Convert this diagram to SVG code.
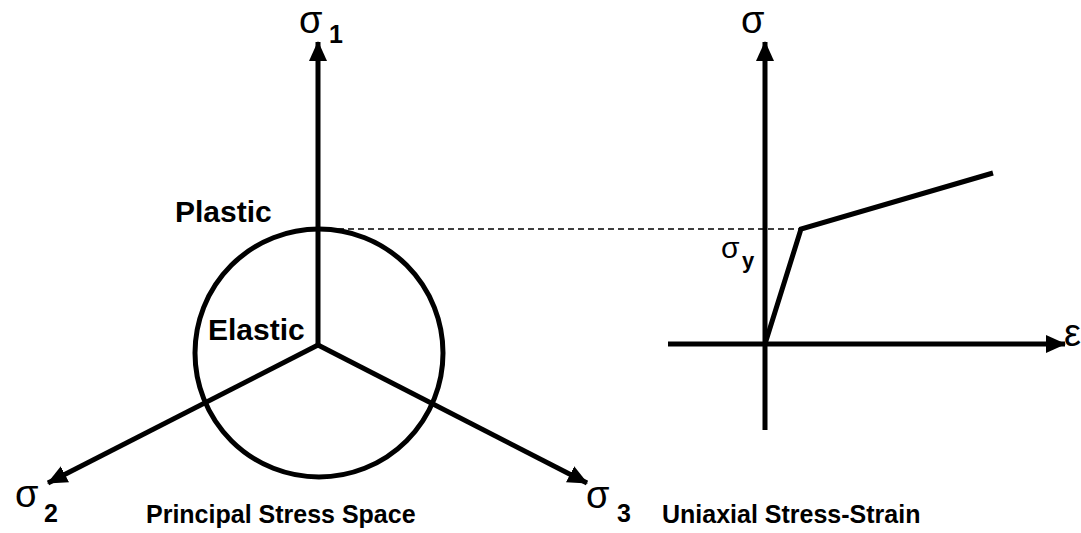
<svg xmlns="http://www.w3.org/2000/svg" width="1081" height="533" viewBox="0 0 1081 533">
<style>
.ax{stroke:#000;stroke-width:5;fill:none}
.sg{font-family:"Liberation Sans",Arial,sans-serif;font-size:38px;fill:#000}
.sub{font-family:"Liberation Sans",Arial,sans-serif;font-size:25px;font-weight:bold;fill:#000}
.lb{font-family:"Liberation Sans",Arial,sans-serif;font-size:30px;font-weight:bold;fill:#000}
.cap{font-family:"Liberation Sans",Arial,sans-serif;font-size:25px;font-weight:bold;fill:#000}
</style>
<defs>
<marker id="a" markerWidth="20" markerHeight="18" refX="19" refY="9" orient="auto" markerUnits="userSpaceOnUse">
<path d="M0,0 L20,9 L0,18 Z" fill="#000"/>
</marker>
</defs>
<g id="connectors">
<line class="ax" x1="318" y1="345" x2="318" y2="42" marker-end="url(#a)"/>
<line class="ax" x1="318" y1="345" x2="48" y2="483" marker-end="url(#a)"/>
<line class="ax" x1="318" y1="345" x2="587" y2="483" marker-end="url(#a)"/>
<line x1="318" y1="229" x2="801" y2="229" stroke="#000" stroke-width="1.5" stroke-dasharray="6,4"/>
<line class="ax" x1="765" y1="430" x2="765" y2="42" marker-end="url(#a)"/>
<line class="ax" x1="668" y1="344" x2="1065" y2="344" marker-end="url(#a)"/>
<polyline class="ax" points="765,344 801,229 993,173"/>
</g>
<g id="yield-circle">
<circle class="ax" cx="319" cy="353" r="124"/>
</g>
<g id="label-sigma1"><text class="sg" x="299" y="33">σ</text><text class="sub" x="329" y="43">1</text></g>
<g id="label-sigma2"><text class="sg" x="15" y="507">σ</text><text class="sub" x="44" y="522">2</text></g>
<g id="label-sigma3"><text class="sg" x="586" y="508">σ</text><text class="sub" x="617" y="522">3</text></g>
<g id="label-sigma"><text class="sg" x="741" y="33">σ</text></g>
<g id="label-eps"><text class="sg" x="1064" y="346">ε</text></g>
<g id="label-sigmay"><text class="sg" x="721" y="258" style="font-size:30px">σ</text><text class="sub" x="742" y="268" style="font-size:22px">y</text></g>
<g id="label-plastic"><text class="lb" x="175" y="222">Plastic</text></g>
<g id="label-elastic"><text class="lb" x="208" y="340">Elastic</text></g>
<g id="caption-left"><text class="cap" x="146" y="523">Principal Stress Space</text></g>
<g id="caption-right"><text class="cap" x="662" y="523">Uniaxial Stress-Strain</text></g>
</svg>
